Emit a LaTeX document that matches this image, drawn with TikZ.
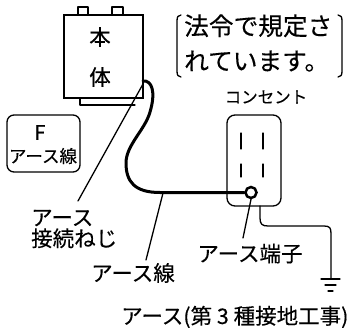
\documentclass[tikz,border=0pt]{standalone}
\usepackage{fontspec}
\newfontfamily\jp[FakeBold=0.3]{Noto Sans CJK JP}
\begin{document}
\begin{tikzpicture}[x=1pt,y=-1pt,
  line/.style={line width=1.3pt, line join=round, line cap=round},
  cable/.style={line width=3pt, line join=round, line cap=round},
  lbl/.style={inner sep=0pt, font=\jp\fontsize{21.5}{23}\selectfont},
]
\useasboundingbox (0,0) rectangle (350,327);

% --- main unit ---
\node[draw, line width=1.3pt, minimum width=79pt, minimum height=83pt, inner sep=0pt] (unit) at (103.5,56.5) {};
\draw[line] (78,15) |- (88,7) -- (88,15);
\draw[line] (112,15) |- (123,7) -- (123,15);
\draw[line] (80,98) -- (80,105) -- (135,105);
\node[lbl] (hon) at (100,37) {本};
\node[lbl] (tai) at (100,77) {体};

% --- note in brackets ---
\node[inner sep=0pt, anchor=west, align=left, font=\jp\fontsize{24.7}{35}\selectfont] (note) at (184,43) {法令で規定さ\\れています。};
\draw[line] (181,15) .. controls (178,15) and (177,17) .. (177,21) -- (177,71) .. controls (177,75) and (178,77) .. (181,77);
\draw[line] (338,15) .. controls (341,15) and (342,17) .. (342,21) -- (342,71) .. controls (342,75) and (341,77) .. (338,77);

% --- F earth wire box ---
\node[draw, line width=1.3pt, rounded corners=7pt, minimum width=73pt, minimum height=57pt, inner sep=0pt] (fbox) at (43.5,143.5) {};
\node[inner sep=0pt, font=\jp\fontsize{20}{22}\selectfont] (ftext) at (40,132.5) {F};
\node[inner sep=0pt, font=\jp\fontsize{17.5}{20}\selectfont] (fsub) at (43,156) {アース線};

% --- outlet ---
\node[inner sep=0pt, font=\jp\fontsize{16.5}{18}\selectfont] (conlbl) at (266,97) {コンセント};
\node[draw, line width=1.3pt, rounded corners=8pt, minimum width=54pt, minimum height=91pt, inner sep=0pt] (outlet) at (254,160.5) {};
\draw[line] (241,133) -- (241,149);
\draw[line] (263,133) -- (263,149);
\draw[line] (241,164) -- (241,177);
\draw[line] (263,164) -- (263,177);
\node[circle, draw, line width=2.5pt, minimum size=11pt, inner sep=0pt] (ring) at (251,192.5) {};

% --- earth cable from the unit to the terminal ---
\coordinate (cstart) at (143,81);
\draw[cable] (cstart) .. controls (152,80) and (156,92) .. (150,112)
  .. controls (145,130) and (126,145) .. (126,163)
  .. controls (126,182) and (135,192.5) .. (160,192.5) -- (ring.west);

% --- ground wire ---
\coordinate (gw) at (260,206);
\coordinate (gnd) at (331,279);
\draw[line] (gw) -- (260,218) .. controls (260,224) and (262,226) .. (268,226) -- (324,226)
  .. controls (330,226) and (331,228) .. (331,234) -- (gnd);
\draw[line] (321,279) -- (340,279);
\draw[line] (325,285) -- (336,285);
\draw[line] (328,291) -- (333,291);

% --- labels and leaders ---
\node[lbl, align=left, anchor=west, font=\jp\fontsize{21.5}{21}\selectfont] (screw) at (31,229) {アース\\接続ねじ};
\coordinate (screwpt) at (143,84);
\coordinate (screwend) at (78,201);
\draw[line] (screwpt) -- (screwend);

\node[lbl] (wirelbl) at (133,273) {アース線};
\coordinate (wirept) at (163,193);
\coordinate (wireend) at (146,260);
\draw[line] (wirept) -- (wireend);

\node[lbl] (termlbl) at (250,253.5) {アース端子};
\coordinate (termend) at (243,238);
\draw[line] (ring.south) -- (termend);

\node[lbl, anchor=west] (gndlbl) at (121,317) {アース(第 3 種接地工事)};
\end{tikzpicture}
\end{document}
